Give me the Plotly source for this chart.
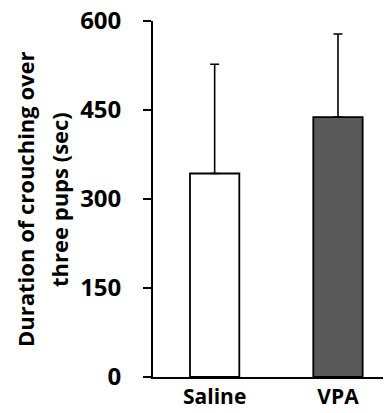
import plotly.graph_objects as go

categories = ["Saline", "VPA"]
means = [343, 438]
errors = [184, 140]
bar_colors = ["#ffffff", "#595959"]
y_ticks = [0, 150, 300, 450, 600]
title_lines = ["Duration of crouching over", "three pups (sec)"]

FONT = "Open Sans"

fig = go.Figure()
fig.add_trace(go.Bar(
    x=categories,
    y=means,
    width=0.4,
    marker=dict(color=bar_colors, line=dict(color="black", width=1.8)),
    error_y=dict(type="data", array=errors, arrayminus=[0, 0], symmetric=False,
                 color="black", thickness=1.6, width=4.5),
))

title_font = dict(family=FONT, size=22, color="black", weight="bold")

fig.update_layout(
    width=383, height=405,
    margin=dict(l=145, r=0, t=13, b=36, autoexpand=False),
    plot_bgcolor="white", paper_bgcolor="white",
    showlegend=False,
    font=dict(family=FONT, color="black"),
    xaxis=dict(
        range=[-0.5, 1.43],
        automargin=False,
        showline=True, linecolor="black", linewidth=1.8,
        ticks="", showgrid=False, zeroline=False,
        tickfont=dict(family=FONT, size=21, color="black", weight="bold"),
    ),
    yaxis=dict(
        range=[0, 600],
        automargin=False,
        tickvals=y_ticks,
        showline=True, linecolor="black", linewidth=1.8,
        ticks="outside", ticklen=8, tickwidth=1.8, tickcolor="black",
        ticklabelstandoff=17,
        ticklabeloverflow="allow",
        showgrid=False, zeroline=False,
        tickfont=dict(family=FONT, size=24, color="black", weight="bold"),
    ),
    annotations=[
        dict(text=title_lines[0], xref="paper", yref="paper",
             x=-0.538, y=0.5, xanchor="center", yanchor="middle",
             textangle=-90, showarrow=False, font=title_font),
        dict(text=title_lines[1], xref="paper", yref="paper",
             x=-0.395, y=0.5, xanchor="center", yanchor="middle",
             textangle=-90, showarrow=False, font=title_font),
    ],
)

fig.write_html("out.html")
